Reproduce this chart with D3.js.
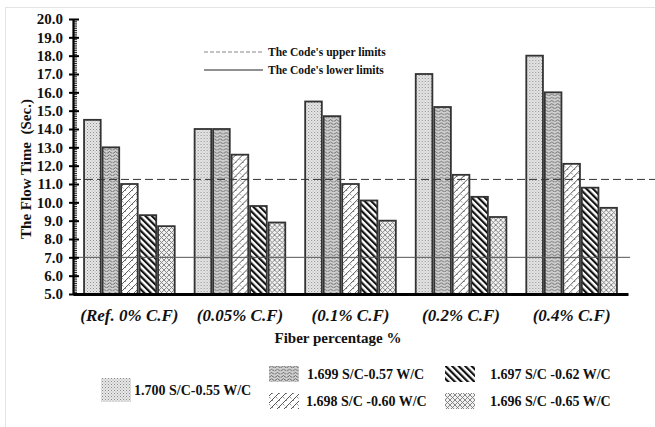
<!DOCTYPE html>
<html>
<head>
<meta charset="utf-8">
<script src="https://cdn.jsdelivr.net/npm/d3@7"></script>
<style>
  body { margin: 0; background: #fff; }
  svg text { font-family: "Liberation Serif", "Times New Roman", serif; font-weight: bold; fill: #111; }
</style>
</head>
<body>
<div id="chart"></div>
<script>
const groups = ['(Ref. 0% C.F)', '(0.05% C.F)', '(0.1% C.F)', '(0.2% C.F)', '(0.4% C.F)'];
const seriesNames = ['1.700 S/C-0.55 W/C', '1.699 S/C-0.57 W/C', '1.698 S/C -0.60 W/C',
    '1.697 S/C -0.62 W/C', '1.696 S/C -0.65 W/C'];
// values per series, one entry per fiber group
const s1700 = [14.5, 14.0, 15.5, 17.0, 18.0];
const s1699 = [13.0, 14.0, 14.7, 15.2, 16.0];
const s1698 = [11.0, 12.6, 11.0, 11.5, 12.1];
const s1697 = [9.3, 9.8, 10.1, 10.3, 10.8];
const s1696 = [8.7, 8.9, 9.0, 9.2, 9.7];
const upperLimit = 11.25;
const lowerLimit = 7.0;
const yTicks = d3.range(5, 20.001, 1);

const seriesValues = [s1700, s1699, s1698, s1697, s1696];
const patternIds = ['p-dots', 'p-wave', 'p-zig', 'p-diag', 'p-cross'];

const width = 655, height = 427;
const plotLeft = 73, plotRight = 628, plotTop = 19, plotBottom = 294;

const svg = d3.select('#chart').append('svg')
    .attr('width', width)
    .attr('height', height);

// light frame round the picture
svg.append('rect')
    .attr('x', 5.5).attr('y', 7.5)
    .attr('width', width).attr('height', height)
    .attr('fill', 'none').attr('stroke', '#e4e4e4');

const defs = svg.append('defs');

// fine stipple
const pd = defs.append('pattern').attr('id', 'p-dots')
    .attr('patternUnits', 'userSpaceOnUse').attr('width', 3).attr('height', 3);
pd.append('rect').attr('width', 3).attr('height', 3).attr('fill', '#e8e8e8');
pd.append('rect').attr('x', 0).attr('y', 0).attr('width', 1).attr('height', 1).attr('fill', '#8a8a8a');
pd.append('rect').attr('x', 1.5).attr('y', 1.5).attr('width', 1).attr('height', 1).attr('fill', '#a5a5a5');

// wavy lines
const pw = defs.append('pattern').attr('id', 'p-wave')
    .attr('patternUnits', 'userSpaceOnUse').attr('width', 6).attr('height', 3.2);
pw.append('rect').attr('width', 6).attr('height', 3.2).attr('fill', '#d0d0d0');
pw.append('path').attr('d', 'M0,2.2 Q1.5,0.2 3,2.2 T6,2.2')
    .attr('fill', 'none').attr('stroke', '#4a4a4a').attr('stroke-width', 0.8);

// slanted zigzag
const pz = defs.append('pattern').attr('id', 'p-zig')
    .attr('patternUnits', 'userSpaceOnUse').attr('width', 7).attr('height', 7);
pz.append('rect').attr('width', 7).attr('height', 7).attr('fill', '#fff');
pz.append('path').attr('d', 'M-1,8 L8,-1')
    .attr('fill', 'none').attr('stroke', '#555').attr('stroke-width', 1);
pz.append('path').attr('d', 'M2.5,4.5 L4.5,6.5 M6,1 L8,3')
    .attr('fill', 'none').attr('stroke', '#777').attr('stroke-width', 0.8);

// thick back-slash stripes
const ps = defs.append('pattern').attr('id', 'p-diag')
    .attr('patternUnits', 'userSpaceOnUse').attr('width', 4.6).attr('height', 4.6)
    .attr('patternTransform', 'rotate(-45)');
ps.append('rect').attr('width', 4.6).attr('height', 4.6).attr('fill', '#fff');
ps.append('rect').attr('width', 2.2).attr('height', 4.6).attr('fill', '#111');

// diamond trellis
const pc = defs.append('pattern').attr('id', 'p-cross')
    .attr('patternUnits', 'userSpaceOnUse').attr('width', 5).attr('height', 5);
pc.append('rect').attr('width', 5).attr('height', 5).attr('fill', '#f2f2f2');
pc.append('path').attr('d', 'M0,0 L5,5 M5,0 L0,5')
    .attr('fill', 'none').attr('stroke', '#7a7a7a').attr('stroke-width', 0.9);

const x0 = d3.scaleBand().domain(groups).range([plotLeft, plotRight])
    .paddingInner(0.18).paddingOuter(0.1);
const x1 = d3.scaleBand().domain(d3.range(seriesNames.length))
    .range([0, x0.bandwidth()]).paddingInner(0.1);
const y = d3.scaleLinear().domain([5, 20]).range([plotBottom, plotTop]);

// bars
const groupG = svg.append('g').selectAll('g')
    .data(groups)
    .join('g')
    .attr('transform', d => `translate(${x0(d)},0)`);

groupG.selectAll('rect')
    .data((g, gi) => seriesValues.map((vals, si) => ({ si, v: vals[gi] })))
    .join('rect')
    .attr('x', d => x1(d.si))
    .attr('y', d => y(d.v))
    .attr('width', x1.bandwidth())
    .attr('height', d => y(5) - y(d.v))
    .attr('fill', d => `url(#${patternIds[d.si]})`)
    .attr('stroke', '#333')
    .attr('stroke-width', 1.8);

// code limits
svg.append('line')
    .attr('x1', plotLeft).attr('x2', width)
    .attr('y1', y(upperLimit)).attr('y2', y(upperLimit))
    .attr('stroke', '#333').attr('stroke-width', 1)
    .attr('stroke-dasharray', '8,4');
svg.append('line')
    .attr('x1', plotLeft).attr('x2', plotRight + 2)
    .attr('y1', y(lowerLimit)).attr('y2', y(lowerLimit))
    .attr('stroke', '#555').attr('stroke-width', 1);

// y axis: majors + dense minors
const minor = svg.append('g')
    .attr('transform', `translate(${plotLeft},0)`)
    .call(d3.axisRight(y).tickValues(d3.range(5, 20.001, 0.1)).tickSize(4).tickFormat(''));
minor.select('.domain').remove();
minor.selectAll('line').attr('stroke', '#111').attr('stroke-width', 0.9);

const yAxis = svg.append('g')
    .attr('transform', `translate(${plotLeft},0)`)
    .call(d3.axisLeft(y).tickValues(yTicks).tickFormat(d3.format('.1f'))
        .tickSizeInner(4).tickSizeOuter(0).tickPadding(6));
yAxis.select('.domain').attr('stroke', '#000').attr('stroke-width', 2.2);
yAxis.selectAll('.tick line').attr('x2', 6).attr('x1', -4)
    .attr('stroke', '#000').attr('stroke-width', 2);
yAxis.selectAll('text').attr('font-size', 15).attr('fill', '#111')
    .style('font-family', '"Liberation Serif", serif').style('font-weight', 'bold');

// x axis
const xAxis = svg.append('g')
    .attr('transform', `translate(0,${plotBottom})`)
    .call(d3.axisBottom(x0).tickSize(0).tickPadding(15));
xAxis.select('.domain').attr('stroke', '#000').attr('stroke-width', 3);
xAxis.selectAll('text').attr('font-size', 17).attr('fill', '#111')
    .style('font-family', '"Liberation Serif", serif').style('font-weight', 'bold')
    .style('font-style', 'italic');

// titles
svg.append('text')
    .attr('transform', `translate(31,169) rotate(-90)`)
    .attr('text-anchor', 'middle')
    .attr('font-size', 15)
    .attr('xml:space', 'preserve')
    .text('The Flow Time  (Sec.)');

svg.append('text')
    .attr('x', 338).attr('y', 343)
    .attr('text-anchor', 'middle')
    .attr('font-size', 15)
    .text('Fiber percentage %');

// limit legend
const limitLegend = [
    { label: "The Code's upper limits", dash: '4,2', yy: 52, color: '#888' },
    { label: "The Code's lower limits", dash: null, yy: 70, color: '#222' }
];
limitLegend.forEach(d => {
    svg.append('line')
        .attr('x1', 204).attr('x2', 263)
        .attr('y1', d.yy).attr('y2', d.yy)
        .attr('stroke', d.color).attr('stroke-width', 1.2)
        .attr('stroke-dasharray', d.dash);
    svg.append('text')
        .attr('x', 268).attr('y', d.yy + 4)
        .attr('font-size', 11.5)
        .text(d.label);
});

// series legend
const legendPos = [
    { x: 101, y: 378, tx: 134, h: 24 },
    { x: 269, y: 366, tx: 307, h: 16 },
    { x: 269, y: 393, tx: 306, h: 16 },
    { x: 445, y: 366, tx: 490, h: 16 },
    { x: 445, y: 393, tx: 490, h: 16 }
];
seriesNames.forEach((name, i) => {
    const p = legendPos[i];
    svg.append('rect')
        .attr('x', p.x).attr('y', p.y)
        .attr('width', 30).attr('height', p.h)
        .attr('fill', `url(#${patternIds[i]})`);
    svg.append('text')
        .attr('x', p.tx).attr('y', p.y + p.h / 2 + 5)
        .attr('font-size', 14)
        .text(name);
});
</script>
</body>
</html>
